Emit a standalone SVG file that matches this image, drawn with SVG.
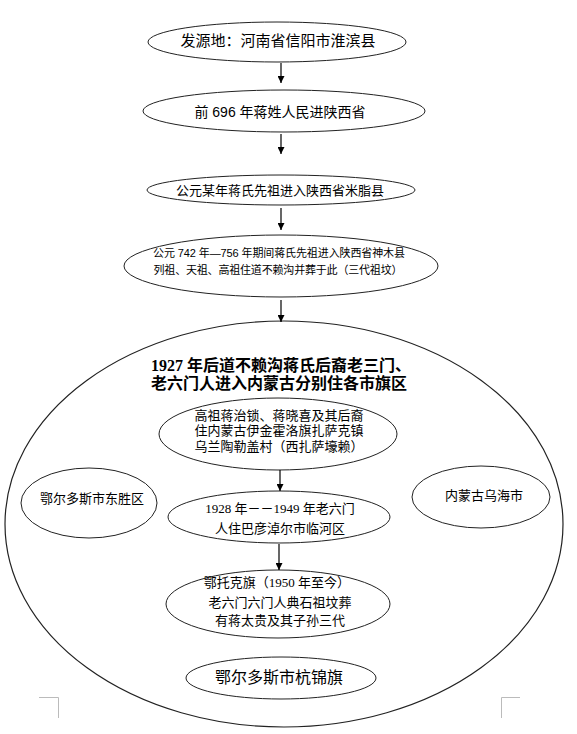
<svg xmlns="http://www.w3.org/2000/svg" width="577" height="734" viewBox="0 0 577 734">
<defs>
<marker id="ah" viewBox="0 0 8 8" refX="8" refY="4" markerWidth="7" markerHeight="7" markerUnits="userSpaceOnUse" orient="auto">
<path d="M0,0 L8,4 L0,8 Z" fill="#000"/>
</marker>
<style>
.n{fill:#fff;stroke:#222;stroke-width:1}
.big{fill:none;stroke:#222;stroke-width:1.2}
.t{font-family:"Liberation Sans","Noto Sans CJK SC",sans-serif;fill:#000;text-anchor:middle}
.s{font-family:"Liberation Serif","Noto Sans CJK SC",serif;fill:#000;text-anchor:middle}
.b{font-family:"Liberation Serif","Noto Sans CJK SC",serif;font-weight:bold;fill:#000}
.c line{stroke:#000;stroke-width:1.2;marker-end:url(#ah)}
.m{stroke:#bbb;stroke-width:1;fill:none}
</style>
</defs>
<rect width="577" height="734" fill="#fff"/>
<g id="region">
<ellipse class="big" cx="284" cy="524" rx="279" ry="203"/>
<text class="b" font-size="16" x="151" y="371">1927 年后道不赖沟蒋氏后裔老三门、</text>
<text class="b" font-size="16" x="151" y="389">老六门人进入内蒙古分别住各市旗区</text>
</g>
<g id="n1"><ellipse class="n" cx="277" cy="42" rx="129" ry="20"/>
<text class="t" font-size="15" x="278" y="45.7">发源地：河南省信阳市淮滨县</text></g>
<g id="n2"><ellipse class="n" cx="284" cy="111" rx="141" ry="21"/>
<text class="t" font-size="14" x="280" y="117">前 696 年蒋姓人民进陕西省</text></g>
<g id="n3"><ellipse class="n" cx="281" cy="190" rx="134" ry="15"/>
<text class="t" font-size="13" x="280" y="195">公元某年蒋氏先祖进入陕西省米脂县</text></g>
<g id="n4"><ellipse class="n" cx="281" cy="266" rx="157" ry="31"/>
<text class="t" font-size="11" x="279" y="257" textLength="252" lengthAdjust="spacing">公元 742 年—756 年期间蒋氏先祖进入陕西省神木县</text>
<text class="t" font-size="11" x="278" y="274" textLength="249" lengthAdjust="spacing">列祖、天祖、高祖住道不赖沟并葬于此（三代祖坟）</text></g>
<g id="nA"><ellipse class="n" cx="278" cy="434" rx="119" ry="36"/>
<text class="t" font-size="13" x="279" y="420">高祖蒋治锁、蒋晓喜及其后裔</text>
<text class="t" font-size="13" x="279" y="435">住内蒙古伊金霍洛旗扎萨克镇</text>
<text class="t" font-size="13" x="279" y="451">乌兰陶勒盖村（西扎萨壕赖）</text></g>
<g id="nC"><ellipse class="n" cx="89" cy="503" rx="68" ry="35"/>
<text class="t" font-size="13" x="92" y="503">鄂尔多斯市东胜区</text></g>
<g id="nD"><ellipse class="n" cx="481" cy="497" rx="69" ry="31"/>
<text class="t" font-size="13" x="484" y="500">内蒙古乌海市</text></g>
<g id="nB"><ellipse class="n" cx="279" cy="517" rx="111" ry="26"/>
<text class="s" font-size="13" x="280" y="513">1928 年－－1949 年老六门</text>
<text class="t" font-size="13" x="280" y="533">人住巴彦淖尔市临河区</text></g>
<g id="nE"><ellipse class="n" cx="278" cy="604" rx="112" ry="34"/>
<text class="s" font-size="13" x="277" y="587">鄂托克旗（1950 年至今）</text>
<text class="t" font-size="13" x="280" y="607">老六门六门人典石祖坟葬</text>
<text class="t" font-size="13" x="280" y="625">有蒋太贵及其子孙三代</text></g>
<g id="nF"><ellipse class="n" cx="281" cy="678" rx="95" ry="21"/>
<text class="t" font-size="16" x="279" y="683">鄂尔多斯市杭锦旗</text></g>
<g id="connectors" class="c">
<line x1="281" y1="63" x2="281" y2="83"/>
<line x1="281" y1="134" x2="281" y2="154"/>
<line x1="281" y1="208" x2="281" y2="230"/>
<line x1="281" y1="300" x2="281" y2="322"/>
<line x1="280" y1="470" x2="280" y2="491"/>
<line x1="279" y1="544" x2="279" y2="570"/>
</g>
<g id="marks">
<path class="m" d="M39,697.5 H58.5 V718"/>
<path class="m" d="M520,697.5 H501.5 V718"/>
</g>
</svg>
